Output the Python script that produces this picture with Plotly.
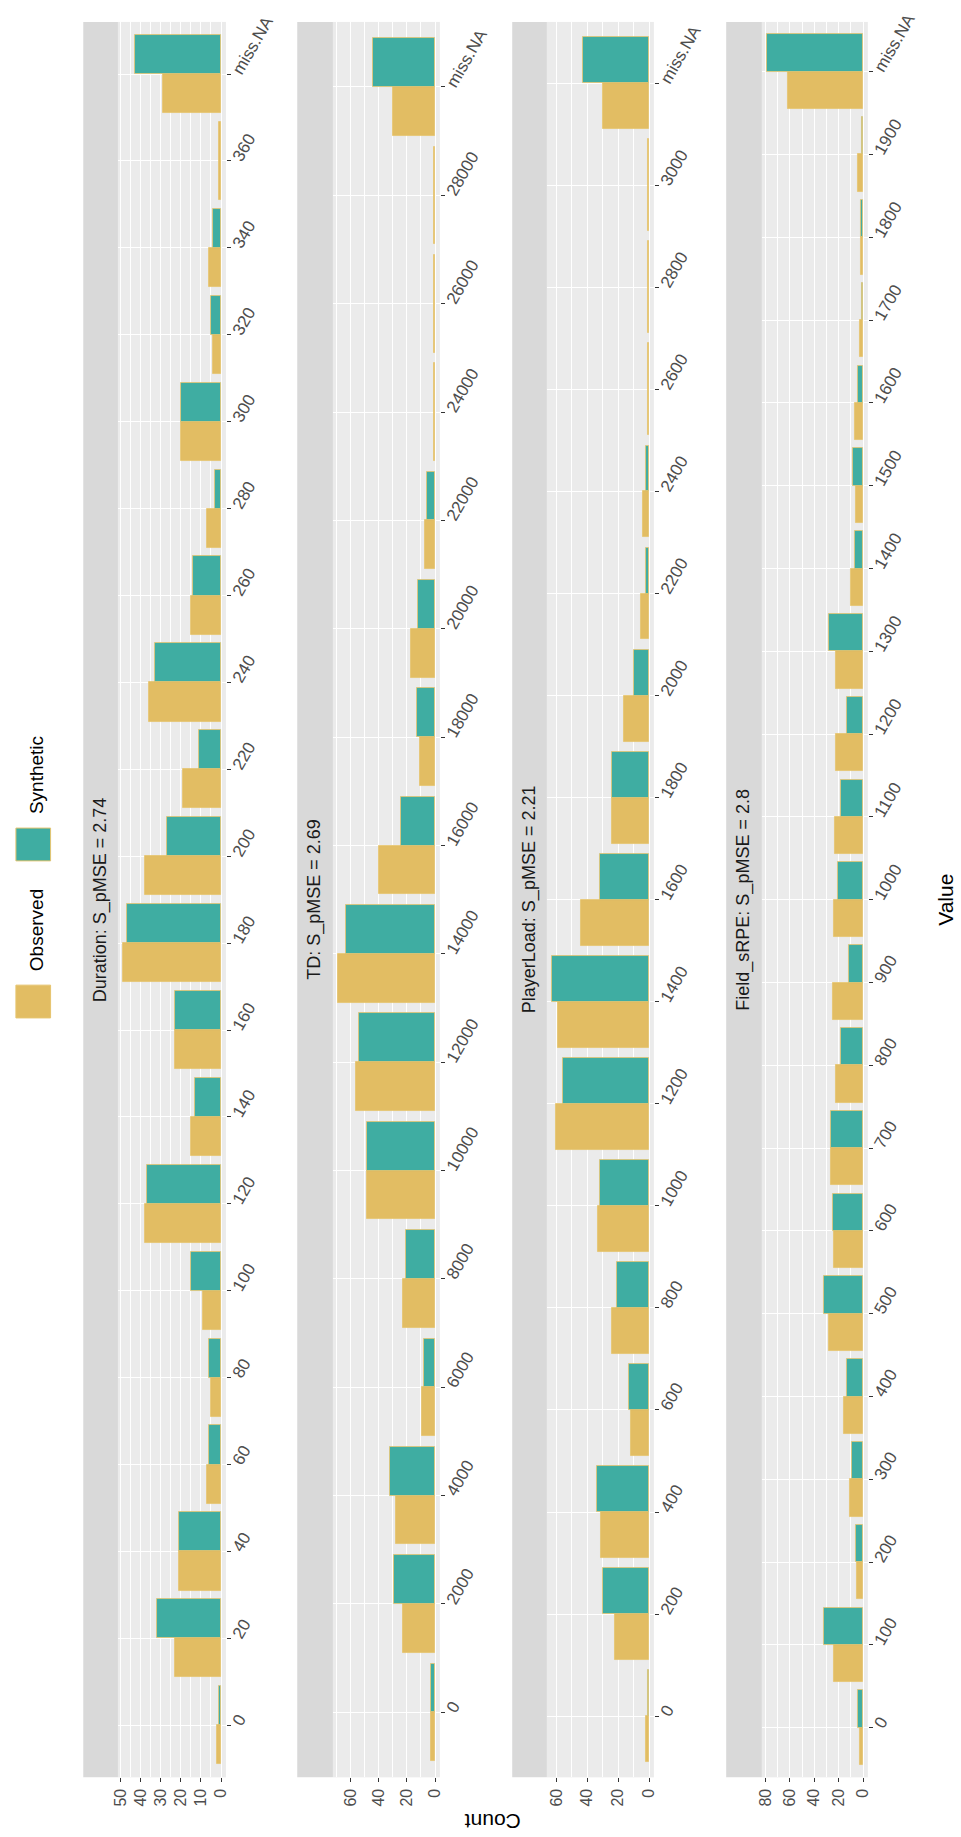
import plotly.graph_objects as go

W, H = 961, 1837

# ---------------- data ----------------
dur_cats = [str(v) for v in range(0, 361, 20)] + ["miss.NA"]
dur_obs = [2, 23, 21, 7, 5, 9, 38, 15, 23, 49, 38, 19, 36, 15, 7, 20, 4, 6, 1, 29]
dur_syn = [1, 32, 21, 6, 6, 15, 37, 13, 23, 47, 27, 11, 33, 14, 3, 20, 5, 4, None, 43]

td_cats = [str(v) for v in range(0, 28001, 2000)] + ["miss.NA"]
td_obs = [3, 23, 28, 9, 23, 48, 56, 69, 40, 11, 17, 7, 1, 1, 1, 30]
td_syn = [3, 29, 32, 8, 21, 48, 54, 63, 24, 13, 12, 6, None, None, None, 44]

pl_cats = [str(v) for v in range(0, 3001, 200)] + ["miss.NA"]
pl_obs = [2, 22, 31, 12, 24, 33, 60, 59, 44, 24, 16, 5, 4, 1, 1, 1, 30]
pl_syn = [1, 30, 34, 13, 21, 32, 56, 63, 32, 24, 10, 2, 2, None, None, None, 43]

fs_cats = [str(v) for v in range(0, 1901, 100)] + ["miss.NA"]
fs_obs = [3, 24, 5, 11, 16, 28, 24, 26, 22, 25, 24, 23, 22, 22, 10, 6, 7, 3, 2, 4, 62]
fs_syn = [4, 32, 6, 9, 13, 32, 25, 26, 18, 12, 21, 18, 13, 28, 7, 8, 4, 1, 2, 1, 79]

titles = ["Duration: S_pMSE = 2.74", "TD: S_pMSE = 2.69",
          "PlayerLoad: S_pMSE = 2.21", "Field_sRPE: S_pMSE = 2.8"]
count_dticks = [10, 20, 20, 20]
count_minor = [5, 10, 10, 10]

# ---------------- style ----------------
GOLD = "#E2BD63"
TEAL = "#3FADA2"
EDGE = "#E6C46E"
PANEL_BG = "#EBEBEB"
STRIP_BG = "#D9D9D9"
FONT = "Liberation Sans, Arial, sans-serif"

strips = [(78, 113), (294, 330), (511, 546), (727, 763)]
plots = [(113, 222), (330, 438), (546, 654), (763, 870)]
TOP, BOT = 11, 1777


def fx(p):
    return p / W


def fy(p):
    return 1 - p / H


panels = [
    (dur_cats, dur_obs, dur_syn),
    (td_cats, td_obs, td_syn),
    (pl_cats, pl_obs, pl_syn),
    (fs_cats, fs_obs, fs_syn),
]

fig = go.Figure()
layout = {}
shapes = []
annotations = []

for i, (cats, obs, syn) in enumerate(panels):
    s = "" if i == 0 else str(i + 1)
    # dodge: full width when only one group is present
    obs_off = [-0.45 for v in syn]
    obs_w = [0.45 if v is not None else 0.9 for v in syn]
    fig.add_trace(go.Bar(
        y=cats, x=obs, orientation="h", xaxis="x" + s, yaxis="y" + s,
        offset=obs_off, width=obs_w, name="Observed", showlegend=False,
        marker=dict(color=GOLD, line=dict(color=EDGE, width=0.8))))
    fig.add_trace(go.Bar(
        y=cats, x=syn, orientation="h", xaxis="x" + s, yaxis="y" + s,
        offset=0, width=0.45, name="Synthetic", showlegend=False,
        marker=dict(color=TEAL, line=dict(color=EDGE, width=0.8))))

    m = max([v for v in obs + syn if v is not None])
    n = len(cats)
    layout["xaxis" + s] = dict(
        domain=[fx(plots[i][0]), fx(plots[i][1])], anchor="y" + s,
        range=[1.05 * m, -0.05 * m], tick0=0, dtick=count_dticks[i],
        ticks="outside", ticklen=4, tickwidth=1, tickcolor="#333333",
        tickangle=-90, tickfont=dict(size=16, color="#4D4D4D", family=FONT),
        showgrid=True, gridcolor="white", gridwidth=1.3,
        minor=dict(dtick=count_minor[i], tick0=0, showgrid=True,
                   gridcolor="white", gridwidth=0.6),
        zeroline=False, showline=False, fixedrange=True)
    layout["yaxis" + s] = dict(
        domain=[fy(BOT), fy(TOP)], anchor="x" + s, side="right",
        type="category", categoryorder="array", categoryarray=cats,
        range=[-0.6, n - 0.4], ticks="outside", ticklen=4, tickwidth=1,
        tickcolor="#333333", tickangle=-60,
        tickfont=dict(size=17, color="#4D4D4D", family=FONT),
        showgrid=True, gridcolor="white", gridwidth=1.3,
        zeroline=False, showline=False, fixedrange=True)

    # facet strip (rotated to the left of each panel)
    shapes.append(dict(type="rect", xref="paper", yref="paper",
                       x0=fx(strips[i][0]), x1=fx(strips[i][1]),
                       y0=fy(BOT), y1=fy(TOP), fillcolor=STRIP_BG,
                       line=dict(width=0), layer="below"))
    annotations.append(dict(text=titles[i], xref="paper", yref="paper",
                            x=fx((strips[i][0] + strips[i][1]) / 2),
                            y=fy((TOP + BOT) / 2), showarrow=False,
                            textangle=-90, xanchor="center", yanchor="middle",
                            font=dict(size=18, color="#1A1A1A", family=FONT)))

# legend (rotated)
legend_items = [("Synthetic", TEAL, 822, 855, 769), ("Observed", GOLD, 980, 1013, 925)]
for label, col, k0, k1, ty in legend_items:
    shapes.append(dict(type="rect", xref="paper", yref="paper",
                       x0=fx(10), x1=fx(45), y0=fy(k1), y1=fy(k0),
                       fillcolor=col, line=dict(color=EDGE, width=1)))
    annotations.append(dict(text=label, xref="paper", yref="paper",
                            x=fx(31), y=fy(ty), showarrow=False, textangle=-90,
                            xanchor="center", yanchor="middle",
                            font=dict(size=19, color="#000000", family=FONT)))

annotations.append(dict(text="Value", xref="paper", yref="paper",
                        x=fx(949), y=fy(894), showarrow=False, textangle=-90,
                        xanchor="center", yanchor="middle",
                        font=dict(size=21, color="#000000", family=FONT)))
annotations.append(dict(text="Count", xref="paper", yref="paper",
                        x=fx(491), y=fy(1822), showarrow=False, textangle=180,
                        xanchor="center", yanchor="middle",
                        font=dict(size=21, color="#000000", family=FONT)))

fig.update_layout(
    width=W, height=H, margin=dict(l=0, r=0, t=0, b=0),
    paper_bgcolor="white", plot_bgcolor=PANEL_BG, barmode="overlay",
    bargap=0, showlegend=False, shapes=shapes, annotations=annotations,
    font=dict(family=FONT),
    **layout)

fig.write_html("out.html", config={"displayModeBar": False})
